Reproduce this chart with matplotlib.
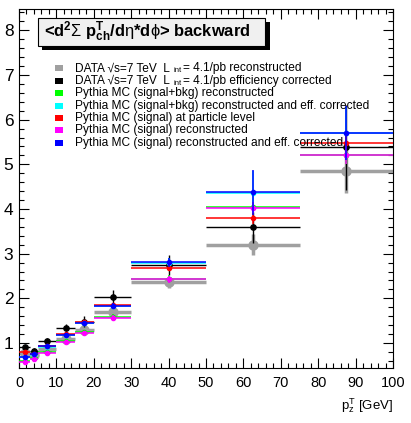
import numpy as np
import matplotlib
matplotlib.use("Agg")
import matplotlib.pyplot as plt
from matplotlib.patches import Rectangle

plt.rcParams['font.family'] = ['Liberation Sans', 'DejaVu Sans']
plt.rcParams['mathtext.fontset'] = 'custom'
plt.rcParams['mathtext.rm'] = 'Liberation Sans'
plt.rcParams['mathtext.it'] = 'Liberation Sans'
plt.rcParams['mathtext.bf'] = 'Liberation Sans:bold'

# bin edges in pT [GeV]
edges = np.array([0, 3, 5, 10, 15, 20, 30, 50, 75, 100])

# series values
data_reco = [0.77, 0.73, 0.86, 1.10, 1.30, 1.70, 2.36, 3.20, 4.85]
data_reco_err = [0.04, 0.04, 0.05, 0.07, 0.08, 0.10, 0.12, 0.24, 0.50]
data_corr = [0.90, 0.83, 1.05, 1.34, 1.48, 2.02, 2.745, 3.59, 5.38]
data_corr_err = [0.06, 0.05, 0.06, 0.09, 0.12, 0.17, 0.22, 0.35, 0.95]
mc_sb_reco = [0.60, 0.66, 0.79, 1.04, 1.24, 1.58, 2.44, 4.04, 5.21]
mc_sb_corr = [0.69, 0.74, 0.92, 1.18, 1.44, 1.82, 2.80, 4.36, 5.69]
mc_s_part = [0.80, 0.76, 0.94, 1.20, 1.47, 1.84, 2.69, 3.79, 5.47]
mc_s_reco = [0.58, 0.64, 0.77, 1.02, 1.22, 1.57, 2.43, 4.03, 5.20]
mc_s_corr = [0.68, 0.75, 0.93, 1.19, 1.45, 1.83, 2.805, 4.37, 5.70]
mc_err = [0.02, 0.02, 0.03, 0.04, 0.05, 0.06, 0.08, 0.12, 0.20]
mc_corr_err = [0.02, 0.02, 0.03, 0.04, 0.05, 0.06, 0.10, 0.50, 0.60]

# data labels are split so the "int" subscript can be drawn small
data_labels = [
    ("DATA \u221As=7 TeV  L ", "int", "= 4.1/pb reconstructed"),
    ("DATA \u221As=7 TeV  L ", "int", "= 4.1/pb efficiency corrected"),
]
mc_labels = [
    "Pythia MC (signal+bkg) reconstructed",
    "Pythia MC (signal+bkg) reconstructed and eff. corrected",
    "Pythia MC (signal) at particle level",
    "Pythia MC (signal) reconstructed",
    "Pythia MC (signal) reconstructed and eff. corrected",
]
colors = ['#a0a0a0', 'black', '#00ff00', '#00ffff', '#ff0000', '#ff00ff', '#0000ff']

centers = 0.5 * (edges[1:] + edges[:-1])
halfw = 0.5 * (edges[1:] - edges[:-1])

fig = plt.figure(figsize=(4.11, 4.23), dpi=100)
ax = fig.add_axes([19 / 411, 1 - 367.7 / 423, (393 - 19) / 411, (367.7 - 9.3) / 423])

# gray data: thick
ax.errorbar(centers, data_reco, xerr=halfw, yerr=data_reco_err, fmt='o', color=colors[0],
            ms=6.5, lw=2.5, capsize=0, zorder=2)
ax.errorbar(centers, data_corr, xerr=halfw, yerr=data_corr_err, fmt='o', color='black',
            ms=3.8, lw=1.0, capsize=0, zorder=3)
mc = [mc_sb_reco, mc_sb_corr, mc_s_part, mc_s_reco, mc_s_corr]
errs = [mc_err, mc_corr_err, mc_err, mc_err, mc_corr_err]
for vals, e, c, z in zip(mc, errs, colors[2:], [4, 4, 5, 5, 6]):
    ax.errorbar(centers, vals, xerr=halfw, yerr=e, fmt='o', color=c,
                ms=3.0, lw=1.1, capsize=0, zorder=z)

ax.set_xlim(0, 100)
ax.set_ylim(0.447, 8.47)
ax.set_xticks(np.arange(0, 101, 10))
ax.set_xticks(np.arange(0, 101, 2), minor=True)
ax.set_yticks(np.arange(1, 9, 1))
ax.set_yticks(np.arange(0.6, 8.47, 0.2), minor=True)
ax.tick_params(which='both', direction='in', top=True, right=True, width=0.8)
ax.tick_params(which='major', length=7)
ax.tick_params(which='minor', length=3.5)
ax.tick_params(axis='x', labelsize=10.5, pad=6)
ax.tick_params(axis='y', labelsize=12.5, pad=4)
for s in ax.spines.values():
    s.set_linewidth(0.8)

ax.text(1.0, -0.105, r"p$_{z}^{T}$ [GeV]", transform=ax.transAxes, ha='right', va='center',
        fontsize=9.5)

# title box with drop shadow
def fx(px):
    return (px - 19) / (393 - 19)

def fy(py):
    return (367.7 - py) / (367.7 - 9.3)

ax.add_patch(Rectangle((fx(41.5), fy(50)), fx(270) - fx(41.5), fy(22) - fy(50),
                       transform=ax.transAxes, facecolor='black', edgecolor='none',
                       zorder=7, clip_on=False))
ax.add_patch(Rectangle((fx(37.5), fy(46.5)), fx(265) - fx(37.5), fy(18) - fy(46.5),
                       transform=ax.transAxes, facecolor='#f0f0f0', edgecolor='black',
                       lw=0.8, zorder=8, clip_on=False))
ax.text(fx(44), fy(32), r"<d$^{\mathbf{2}}\Sigma$ p$^{\mathbf{T}}_{\mathbf{ch}}$/d$\eta$*d$\phi$> backward",
        transform=ax.transAxes, ha='left', va='center', fontsize=11.9, fontweight='bold', zorder=9)

# legend entries
renderer = fig.canvas.get_renderer()
fs = 8.6
for i, c in enumerate(colors):
    yc = 68.5 + 12.4 * i
    ax.add_patch(Rectangle((fx(55), fy(yc + 3)), fx(63) - fx(55), fy(yc - 3) - fy(yc + 3),
                           transform=ax.transAxes, facecolor=c, edgecolor='none', zorder=8))
    if i < 2:
        head, sub, tail = data_labels[i]
        t1 = ax.text(fx(75), fy(yc), head, transform=ax.transAxes, ha='left', va='center',
                     fontsize=fs, zorder=9)
        x1 = t1.get_window_extent(renderer).x1
        t2 = ax.text(fx(19 + x1 - ax.get_window_extent(renderer).x0 + 1), fy(yc + 2.5), sub,
                     transform=ax.transAxes, ha='left', va='center', fontsize=5.5, zorder=9)
        x2 = t2.get_window_extent(renderer).x1
        ax.text(fx(19 + x2 - ax.get_window_extent(renderer).x0 + 1), fy(yc), tail,
                transform=ax.transAxes, ha='left', va='center', fontsize=fs, zorder=9)
    else:
        ax.text(fx(75), fy(yc), mc_labels[i - 2], transform=ax.transAxes, ha='left',
                va='center', fontsize=fs, zorder=9)

fig.savefig("out.png", dpi=100)
